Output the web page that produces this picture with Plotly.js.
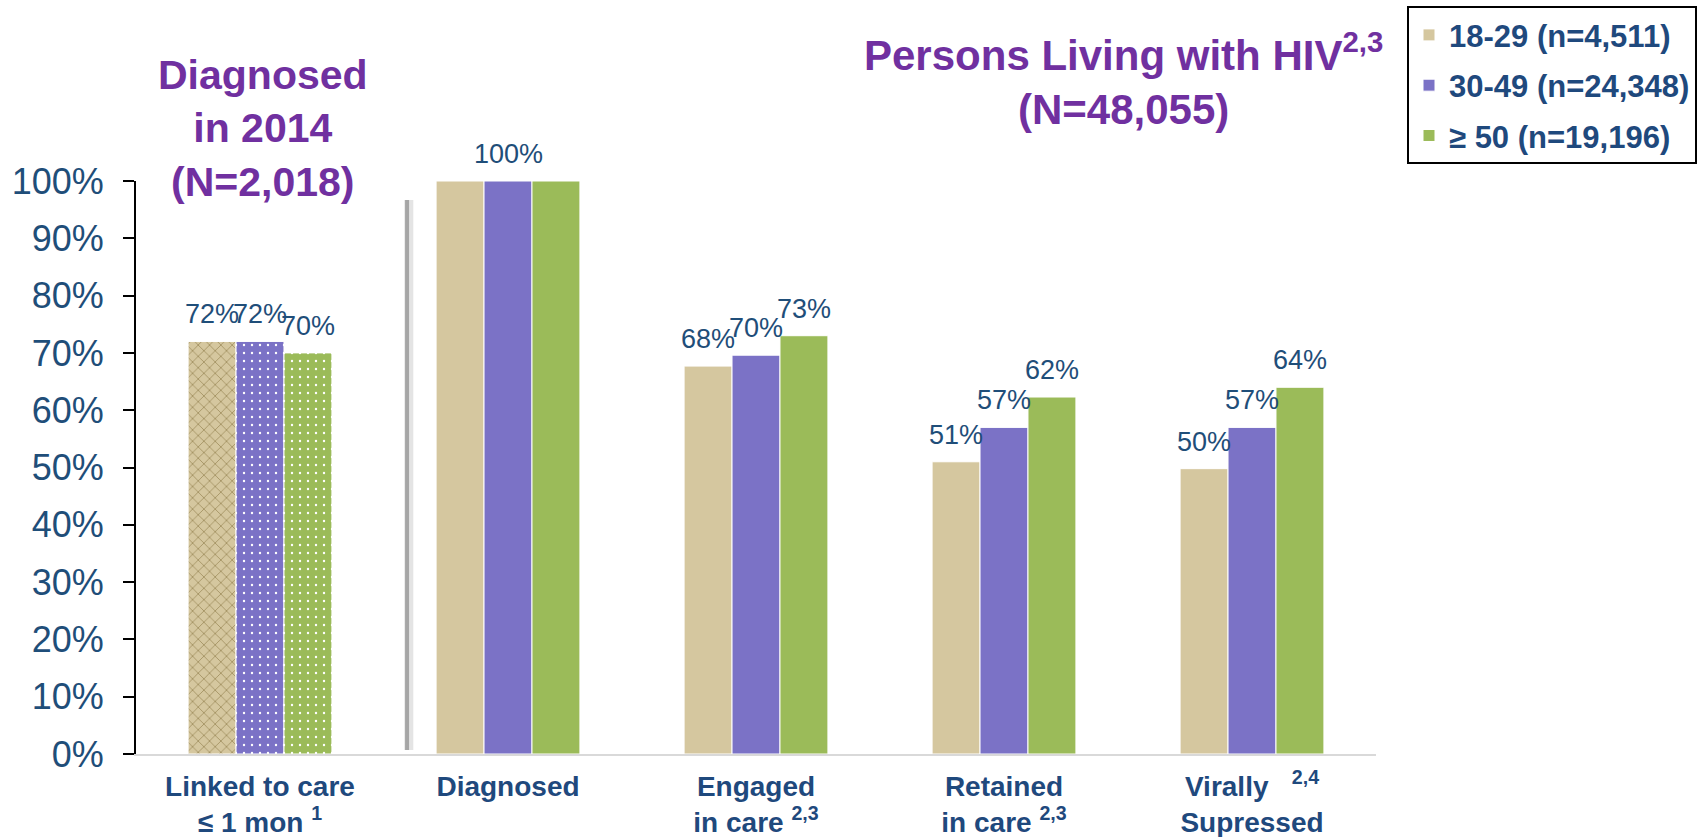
<!DOCTYPE html>
<html><head><meta charset="utf-8">
<script src="https://cdn.plot.ly/plotly-3.0.1.min.js"></script>
<style>html,body{margin:0;padding:0;background:#fff}#chart{width:1703px;height:837px}</style>
</head><body><div id="chart"></div>
<script>
// ---- data ----
const categories = ['Linked', 'Diagnosed', 'Engaged', 'Retained', 'Virally'];
const tickLabels = [
  'Linked to care<br>≤ 1 mon <sup>1</sup>',
  'Diagnosed',
  'Engaged<br>in care <sup>2,3</sup>',
  'Retained<br>in care <sup>2,3</sup>',
  'Virally&nbsp;&nbsp;&nbsp;<sup>2,4</sup><br>Supressed'
];
const seriesNames = ['18-29 (n=4,511)', '30-49 (n=24,348)', '≥ 50 (n=19,196)'];
const age18_29  = [72, 100, 67.7, 51.0, 49.8];
const age30_49  = [72, 100, 69.6, 57.0, 57.0];
const age50plus = [70, 100, 73.0, 62.3, 64.0];
const yTicks = [0, 10, 20, 30, 40, 50, 60, 70, 80, 90, 100];

// ---- styles ----
const colors = ['#D5C79F', '#7B72C6', '#9BBB59'];
const patternFg = ['#8E7C4A', '#FFFFFF', '#FFFFFF'];
const patternShape = ['x', '.', '.'];
const labelColor = '#1F4E79';
const titleColor = '#7030A0';
const bargap = 0.42;
const series = [age18_29, age30_49, age50plus];

const traces = [];
series.forEach((vals, j) => {
  // patterned first category (Diagnosed in 2014)
  traces.push({
    type: 'bar', x: categories.slice(0, 1), y: vals.slice(0, 1),
    offsetgroup: String(j), legendgroup: String(j), showlegend: false,
    marker: { color: colors[j], line: { color: '#fff', width: 1 },
      pattern: { shape: patternShape[j], fgcolor: patternFg[j], bgcolor: colors[j], fillmode: 'replace',
                 size: 8, solidity: j === 0 ? 0.15 : 0.07 } },
    hoverinfo: 'skip'
  });
  traces.push({
    type: 'bar', name: seriesNames[j], x: categories.slice(1), y: vals.slice(1),
    offsetgroup: String(j), legendgroup: String(j),
    marker: { color: colors[j], line: { color: '#fff', width: 1 } }
  });
});

const w = (1 - bargap) / 3;
const annotations = [];
categories.forEach((c, i) => {
  const vals = series.map(s => s[i]);
  const allSame = vals.every(v => v === vals[0]) && vals[0] === 100;
  series.forEach((s, j) => {
    if (allSame && j !== 1) return;
    annotations.push({
      xref: 'x', yref: 'y', x: i + (j - 1) * w, y: s[i], text: Math.round(s[i]) + '%',
      showarrow: false, yanchor: 'bottom', yshift: 10,
      font: { family: 'Liberation Sans, Arial, sans-serif', size: 27, color: labelColor }
    });
  });
});
annotations.push({
  xref: 'paper', yref: 'paper', x: 0.1024, y: 1.092, xanchor: 'center', yanchor: 'middle',
  text: 'Diagnosed<br>in 2014<br>(N=2,018)', showarrow: false,
  font: { family: 'Liberation Sans, Arial, sans-serif', size: 41, weight: 'bold', color: titleColor }
});
annotations.push({
  xref: 'paper', yref: 'paper', x: 0.796, y: 1.178, xanchor: 'center', yanchor: 'middle',
  text: 'Persons Living with HIV<sup>2,3</sup><br>(N=48,055)', showarrow: false,
  font: { family: 'Liberation Sans, Arial, sans-serif', size: 42, weight: 'bold', color: titleColor }
});

const layout = {
  width: 1703, height: 837,
  margin: { l: 136, r: 327, t: 181, b: 83, autoexpand: false },
  paper_bgcolor: '#fff', plot_bgcolor: '#fff',
  barmode: 'group', bargap: bargap, bargroupgap: 0,
  showlegend: true,
  legend: {
    x: 1.025, y: 1.305, xanchor: 'left', yanchor: 'top',
    bordercolor: '#000', borderwidth: 2, bgcolor: '#fff',
    traceorder: 'grouped', tracegroupgap: 7,
    font: { family: 'Liberation Sans, Arial, sans-serif', size: 31, weight: 'bold', color: '#1F497D' }
  },
  xaxis: {
    type: 'category', categoryorder: 'array', categoryarray: categories,
    tickvals: categories, ticktext: tickLabels,
    range: [-0.5, 4.5], automargin: false,
    showline: true, linecolor: '#D9D9D9', linewidth: 2, ticks: '', showgrid: false, zeroline: false,
    tickfont: { family: 'Liberation Sans, Arial, sans-serif', size: 28, weight: 'bold', color: '#1F497D' },
    ticklabelstandoff: 6
  },
  yaxis: {
    range: [0, 100], tickvals: yTicks, ticktext: yTicks.map(t => t + '%'), automargin: false,
    showline: true, linecolor: '#000', linewidth: 2,
    ticks: 'outside', ticklen: 11, tickwidth: 2, tickcolor: '#000',
    showgrid: false, zeroline: false,
    tickfont: { family: 'Liberation Sans, Arial, sans-serif', size: 36, color: labelColor },
    ticklabelstandoff: 12
  },
  shapes: [
    { type: 'line', xref: 'x', yref: 'y', x0: 0.6, x1: 0.6, y0: 0.7, y1: 96.7,
      line: { color: '#E4E4E4', width: 9 }, layer: 'above' },
    { type: 'line', xref: 'x', yref: 'y', x0: 0.593, x1: 0.593, y0: 0.7, y1: 96.7,
      line: { color: '#A6A6A6', width: 4 }, layer: 'above' }
  ],
  annotations: annotations
};

Plotly.newPlot('chart', traces, layout, { displayModeBar: false, staticPlot: true });
</script>
</body></html>
